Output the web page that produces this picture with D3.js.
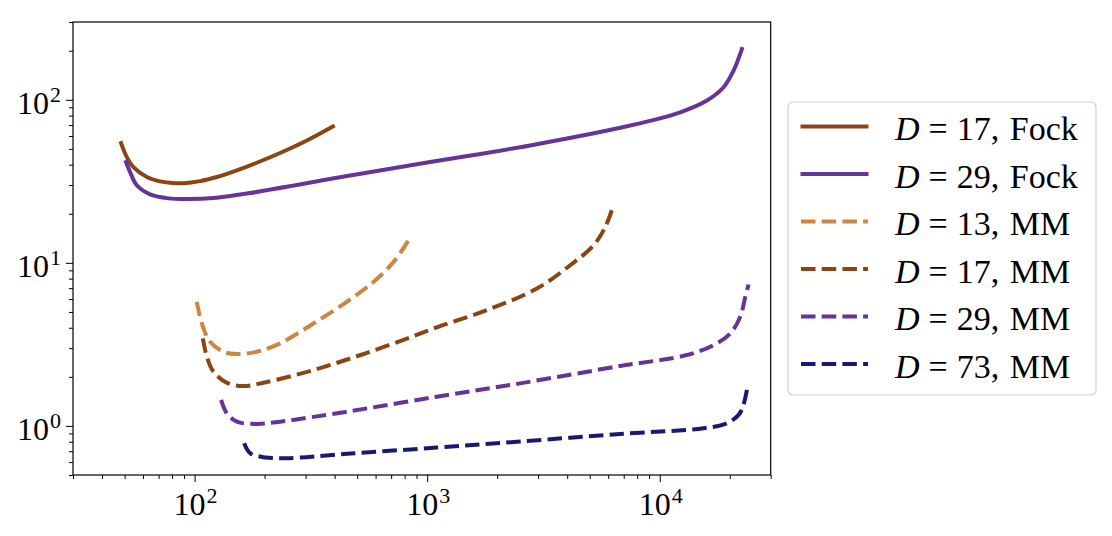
<!DOCTYPE html>
<html>
<head>
<meta charset="utf-8">
<script src="https://cdn.jsdelivr.net/npm/d3@7"></script>
<style>
  body { margin: 0; background: #fff; }
  svg { display: block; }
  text { font-family: "Liberation Serif", "DejaVu Serif", serif; fill: #000; }
</style>
</head>
<body>
<div id="chart"></div>
<script>
// ---- data (x, y) ----
const fock17 = [[48.3,54.2],[51.1,44.5],[54.6,38.6],[62.3,33.6],[71.1,31.6],[78.5,31.0],[89.5,30.8],
  [105.6,31.7],[124.6,33.6],[151.9,36.9],[185.1,41.1],[241,48.2],[303.8,56.3],[393,68.6]];
const fock29 = [[50.7,41.5],[52.8,36.0],[56.4,29.9],[64.4,26.3],[75.9,24.95],[92.6,24.6],[124.6,25.1],
  [173.3,26.8],[466.6,34.3],[1030,41.5],[2773,52.5],[7465,69.5],[12250,83.8],
  [15950,98.9],[18810,119.3],[20770,150.9],[22570,205]];
const mm13 = [[102.2,5.77],[107.4,4.25],[116.6,3.28],[133,2.85],[151.9,2.76],[185.1,2.85],[233.2,3.21],
  [324.3,4.25],[451.3,5.77],[587.5,7.64],[716,10.1],[831,13.75]];
const mm17 = [[108.5,3.44],[112.9,2.66],[120.5,2.15],[137.5,1.84],[162.2,1.757],[197.7,1.84],[324.3,2.2],
  [532,2.76],[873,3.55],[1137,4.09],[1806,5.13],[2964,6.96],[4121,9.67],[5192,12.8],[5830,16.6],[6291,22.0]];
const mm29 = [[130,1.443],[137.5,1.196],[151.9,1.062],[185.1,1.029],[233.2,1.062],[451.3,1.223],[1100,1.51],
  [2512,1.824],[6761,2.33],[13090,2.72],[17040,3.13],[20100,3.69],[22190,4.67],[23320,6.18],[24100,7.37]];
const mm73 = [[163.3,0.783],[173.3,0.681],[197.7,0.643],[249.3,0.634],[451.3,0.674],[1100,0.737],
  [2512,0.802],[6761,0.893],[15420,0.968],[19450,1.038],[21830,1.168],[22800,1.313],[23710,1.661]];

const seriesNames = ['17, Fock', '29, Fock', '13, MM', '17, MM', '29, MM', '73, MM'];
const seriesValues = [fock17, fock29, mm13, mm17, mm29, mm73];
const seriesColors = ['#8b4513', '#663399', '#cd853f', '#8b4513', '#663399', '#191970'];
const seriesDashed = [false, false, true, true, true, true];

const xDomain = [30, 30000];
const yDomain = [0.5, 300];
const xMajor = [100, 1000, 10000];
const yMajor = [1, 10, 100];

// ---- layout ----
const W = 1112, H = 536;
const margin = {top: 22, left: 73, right: W - 770.7, bottom: H - 475};
const width = W - margin.left - margin.right;
const height = H - margin.top - margin.bottom;
const lw = 4;
const dash = '14.5,6.2';

const svg = d3.select('#chart').append('svg')
  .attr('width', W)
  .attr('height', H);

const g = svg.append('g')
  .attr('transform', `translate(${margin.left},${margin.top})`);

const x = d3.scaleLog().domain(xDomain).range([0, width]);
const y = d3.scaleLog().domain(yDomain).range([height, 0]);

// minor ticks: every integer multiple inside the domain
function minorTicks(domain, majors) {
  const out = [];
  for (let e = -1; e <= 5; e++) {
    for (let m = 1; m < 10; m++) {
      const v = m * Math.pow(10, e);
      if (v >= domain[0] * 0.999 && v <= domain[1] * 1.001 && !majors.includes(v)) out.push(v);
    }
  }
  return out;
}

g.append('defs').append('clipPath').attr('id', 'plot-clip')
  .append('rect').attr('width', width).attr('height', height);

// ---- axes ----
const xMinorAxis = d3.axisBottom(x).tickValues(minorTicks(xDomain, xMajor)).tickSize(4).tickFormat('');
const xMajorAxis = d3.axisBottom(x).tickValues(xMajor).tickSize(7).tickFormat('');
const yMinorAxis = d3.axisLeft(y).tickValues(minorTicks(yDomain, yMajor)).tickSize(4).tickFormat('');
const yMajorAxis = d3.axisLeft(y).tickValues(yMajor).tickSize(7).tickFormat('');

[[xMinorAxis, true], [xMajorAxis, true], [yMinorAxis, false], [yMajorAxis, false]].forEach(([ax, isX]) => {
  const a = g.append('g')
    .attr('transform', isX ? `translate(0,${height})` : null)
    .call(ax);
  a.select('.domain').remove();
  a.selectAll('line').attr('stroke', '#000').attr('stroke-width', 1);
});

// power-of-ten labels with superscripts
function powerLabel(sel, v) {
  const e = Math.round(Math.log10(v));
  sel.append('tspan').text('10');
  sel.append('tspan').attr('dx', 1).attr('dy', -12).attr('font-size', 22).text(e);
}

g.selectAll('.xlab').data(xMajor).enter().append('text')
  .attr('class', 'xlab')
  .attr('x', d => x(d) + 1)
  .attr('y', height + 40)
  .attr('text-anchor', 'middle')
  .attr('font-size', 32)
  .each(function(d) { powerLabel(d3.select(this), d); });

g.selectAll('.ylab').data(yMajor).enter().append('text')
  .attr('class', 'ylab')
  .attr('x', -12)
  .attr('y', d => y(d) + 14)
  .attr('text-anchor', 'end')
  .attr('font-size', 32)
  .each(function(d) { powerLabel(d3.select(this), d); });

// ---- lines ----
const line = d3.line()
  .x(d => x(d[0]))
  .y(d => y(d[1]))
  .curve(d3.curveCatmullRom.alpha(0.5));

const plot = g.append('g').attr('clip-path', 'url(#plot-clip)');

seriesValues.forEach((vals, i) => {
  plot.append('path')
    .datum(vals)
    .attr('d', line)
    .attr('fill', 'none')
    .attr('stroke', seriesColors[i])
    .attr('stroke-width', lw)
    .attr('stroke-dasharray', seriesDashed[i] ? dash : null)
    .attr('stroke-linecap', seriesDashed[i] ? 'butt' : 'square')
    .attr('stroke-linejoin', 'round');
});

// frame
g.append('rect')
  .attr('width', width)
  .attr('height', height)
  .attr('fill', 'none')
  .attr('stroke', '#000')
  .attr('stroke-width', 1.2);

// ---- legend ----
const legend = svg.append('g').attr('transform', 'translate(788,102)');
legend.append('rect')
  .attr('width', 308)
  .attr('height', 293)
  .attr('rx', 5)
  .attr('fill', '#fff')
  .attr('fill-opacity', 0.8)
  .attr('stroke', '#d0d0d0')
  .attr('stroke-width', 1.2);

seriesNames.forEach((name, i) => {
  const row = legend.append('g').attr('transform', `translate(0,${24.5 + i * 47.5})`);
  row.append('line')
    .attr('x1', seriesDashed[i] ? 13 : 14.5)
    .attr('x2', seriesDashed[i] ? 80 : 78.5)
    .attr('stroke', seriesColors[i])
    .attr('stroke-width', lw)
    .attr('stroke-dasharray', seriesDashed[i] ? dash : null)
    .attr('stroke-linecap', seriesDashed[i] ? 'butt' : 'square');
  const [num, kind] = name.split(', ');
  const t = row.append('text')
    .attr('x', 107)
    .attr('y', 13.5)
    .attr('font-size', 34);
  t.append('tspan').attr('font-style', 'italic').text('D');
  t.append('tspan').attr('dx', 9).text('=');
  t.append('tspan').attr('dx', 9).text(num + ',');
  t.append('tspan').attr('dx', 2).text(' ' + kind);
});
</script>
</body>
</html>
